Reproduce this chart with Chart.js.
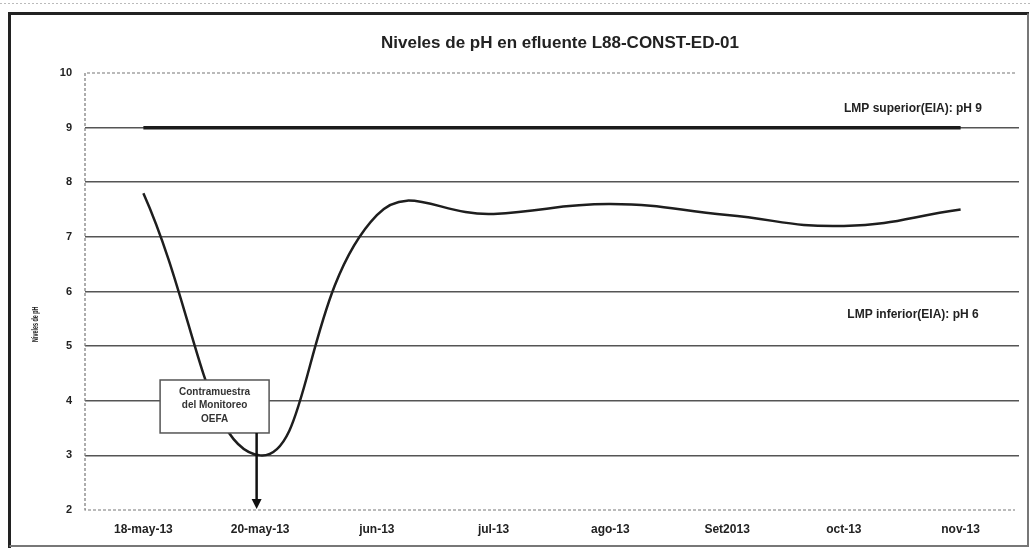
<!DOCTYPE html>
<html>
<head>
<meta charset="utf-8">
<script src="https://cdn.jsdelivr.net/npm/chart.js@4.4.1/dist/chart.umd.min.js"></script>
<style>
  html, body { margin: 0; padding: 0; background: #fff; }
  #wrap { width: 1032px; height: 549px; position: relative; }
</style>
</head>
<body>
<div id="wrap"><canvas id="phChart" width="1032" height="549"></canvas></div>
<script>
// datos
const categories = ["18-may-13", "20-may-13", "jun-13", "jul-13", "ago-13", "Set2013", "oct-13", "nov-13"];
const phValues = [7.8, 3.0, 7.4, 7.42, 7.6, 7.4, 7.2, 7.5];
const lmpSuperior = [9, 9, 9, 9, 9, 9, 9, 9];
const yMin = 2;
const yMax = 10;

const chartTitle = "Niveles de pH en efluente L88-CONST-ED-01";
const yTitle = "Niveles de pH";
const labelSuperior = "LMP superior(EIA): pH 9";
const labelInferior = "LMP inferior(EIA): pH 6";
const noteLines = ["Contramuestra", "del Monitoreo", "OEFA"];

const FONT = "'Liberation Sans', Arial, sans-serif";

// Plugin para marco, títulos y anotaciones
const decorPlugin = {
    id: "decor",
    beforeDraw(chart) {
        const ctx = chart.ctx;
        ctx.save();
        ctx.fillStyle = "#fff";
        ctx.fillRect(0, 0, chart.width, chart.height);
        // marco exterior
        ctx.strokeStyle = "#bbb";
        ctx.lineWidth = 1;
        ctx.setLineDash([2, 2]);
        ctx.beginPath();
        ctx.moveTo(0, 3.5); ctx.lineTo(1032, 3.5);
        ctx.stroke();
        ctx.setLineDash([]);
        ctx.strokeStyle = "#222";
        ctx.lineWidth = 3;
        ctx.beginPath();
        ctx.moveTo(9.5, 548); ctx.lineTo(9.5, 13.5); ctx.lineTo(1029, 13.5);
        ctx.stroke();
        ctx.strokeStyle = "#777";
        ctx.lineWidth = 2;
        ctx.beginPath();
        ctx.moveTo(1028, 13.5); ctx.lineTo(1028, 546); ctx.lineTo(9.5, 546);
        ctx.stroke();
        ctx.restore();
    },
    beforeDatasetsDraw(chart) {
        const { ctx, chartArea } = chart;
        ctx.save();
        ctx.strokeStyle = "#777";
        ctx.lineWidth = 1.2;
        ctx.setLineDash([3, 2]);
        ctx.beginPath();
        ctx.moveTo(chartArea.right - 4, chartArea.top);
        ctx.lineTo(chartArea.left, chartArea.top);
        ctx.lineTo(chartArea.left, chartArea.bottom);
        ctx.lineTo(chartArea.right - 4, chartArea.bottom);
        ctx.stroke();
        ctx.restore();
    },
    afterDatasetsDraw(chart) {
        const ctx = chart.ctx;
        const x = chart.scales.x;
        const y = chart.scales.y;
        ctx.save();

        // recuadro "Contramuestra del Monitoreo OEFA"
        const cx = x.getPixelForValue(0.61);
        const top = y.getPixelForValue(4.38);
        const bottom = y.getPixelForValue(3.41);
        const w = 109;
        ctx.fillStyle = "#fff";
        ctx.fillRect(cx - w / 2, top, w, bottom - top);
        ctx.strokeStyle = "#555";
        ctx.lineWidth = 1.5;
        ctx.strokeRect(cx - w / 2, top, w, bottom - top);
        ctx.fillStyle = "#333";
        ctx.font = "bold 10px " + FONT;
        ctx.textAlign = "center";
        ctx.textBaseline = "middle";
        noteLines.forEach((line, i) => {
            ctx.fillText(line, cx, top + 12 + i * 13.5);
        });

        // flecha
        const ax = x.getPixelForValue(0.97);
        const tipY = y.getPixelForValue(yMin) - 1;
        ctx.strokeStyle = "#111";
        ctx.lineWidth = 2.5;
        ctx.beginPath();
        ctx.moveTo(ax, bottom);
        ctx.lineTo(ax, tipY - 8);
        ctx.stroke();
        ctx.fillStyle = "#111";
        ctx.beginPath();
        ctx.moveTo(ax - 5, tipY - 10);
        ctx.lineTo(ax + 5, tipY - 10);
        ctx.lineTo(ax, tipY);
        ctx.closePath();
        ctx.fill();

        // etiquetas de los límites
        ctx.fillStyle = "#222";
        ctx.font = "bold 12px " + FONT;
        ctx.fillText(labelSuperior, 913, y.getPixelForValue(9.35));
        ctx.fillText(labelInferior, 913, y.getPixelForValue(5.57));
        ctx.restore();
    },
    afterDraw(chart) {
        const ctx = chart.ctx;
        const y = chart.scales.y;
        ctx.save();
        ctx.fillStyle = "#222";
        ctx.textAlign = "center";
        ctx.textBaseline = "middle";
        ctx.font = "bold 17px " + FONT;
        ctx.fillText(chartTitle, 560, 43);

        // título del eje Y, comprimido
        ctx.translate(36, y.getPixelForValue(5.4));
        ctx.rotate(-Math.PI / 2);
        ctx.scale(0.6, 1);
        ctx.font = "bold 9px " + FONT;
        ctx.fillText(yTitle, 0, 0);
        ctx.restore();
    }
};

const ctx = document.getElementById("phChart").getContext("2d");

new Chart(ctx, {
    type: "line",
    data: {
        labels: categories,
        datasets: [
            {
                label: "LMP superior",
                data: lmpSuperior,
                borderColor: "#1c1c1c",
                borderWidth: 3.5,
                pointRadius: 0,
                tension: 0
            },
            {
                label: "pH",
                data: phValues,
                borderColor: "#1e1e1e",
                borderWidth: 2.5,
                pointRadius: 0,
                tension: 0.45
            }
        ]
    },
    options: {
        responsive: false,
        animation: false,
        devicePixelRatio: 1,
        layout: {
            padding: { top: 73, left: 0, right: 13, bottom: 0 }
        },
        plugins: {
            legend: { display: false },
            title: { display: false },
            tooltip: { enabled: false }
        },
        scales: {
            x: {
                offset: true,
                grid: { display: false, drawTicks: false },
                border: { display: false },
                ticks: {
                    padding: 12,
                    color: "#222",
                    font: { family: FONT, size: 12, weight: "bold" },
                    maxRotation: 0,
                    autoSkip: false
                },
                afterFit(scale) { scale.height = 39; }
            },
            y: {
                min: yMin,
                max: yMax,
                grid: {
                    drawTicks: false,
                    lineWidth: 1.6,
                    color: c => (c.tick.value === yMin || c.tick.value === yMax) ? "rgba(0,0,0,0)" : "#555"
                },
                border: { display: false },
                ticks: {
                    stepSize: 1,
                    padding: 13,
                    color: "#222",
                    font: { family: FONT, size: 11, weight: "bold" }
                },
                afterFit(scale) { scale.width = 85; }
            }
        }
    },
    plugins: [decorPlugin]
});
</script>
</body>
</html>
